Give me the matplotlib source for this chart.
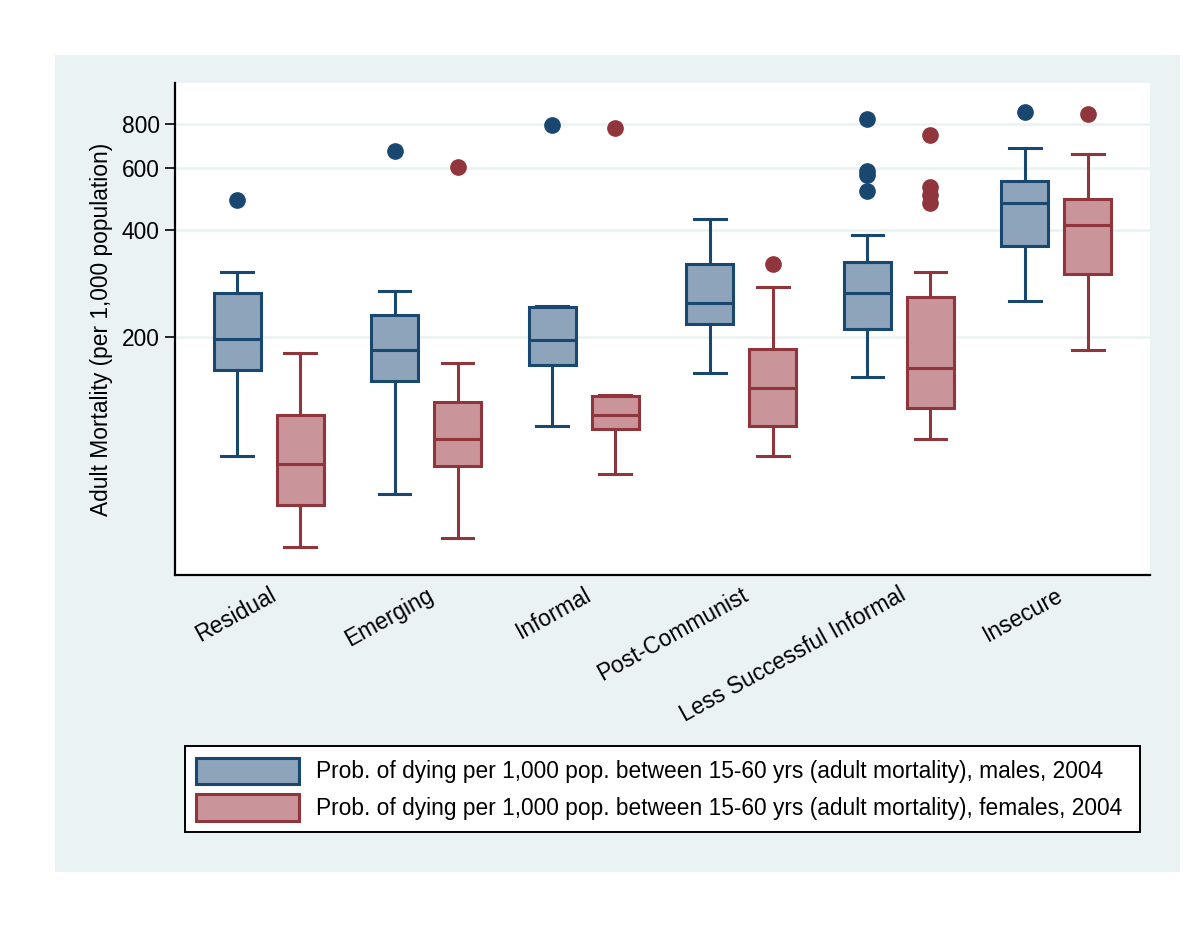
import matplotlib.pyplot as plt
from matplotlib.patches import Rectangle, Patch
import numpy as np

plt.rcParams['font.family'] = ['Liberation Sans', 'DejaVu Sans']

categories = ['Residual', 'Emerging', 'Informal', 'Post-Communist',
              'Less Successful Informal', 'Insecure']

# male box stats: whisker low, q1, median, q3, whisker high
male_lo = [92, 72, 112, 158, 154, 253]
male_q1 = [161, 150, 167, 218, 211, 362]
male_med = [197, 184, 196, 250, 266, 479]
male_q3 = [266, 231, 243, 322, 326, 553]
male_hi = [305, 270, 244, 431, 389, 685]
male_out = [[488], [672], [796], [], [828, 590, 575, 518], [866]]

# female box stats
fem_lo = [51, 54, 82, 92, 103, 183]
fem_q1 = [67, 86, 110, 112, 126, 301]
fem_med = [87.5, 103, 120, 143, 163, 415]
fem_q3 = [120, 131, 136, 185, 260, 491]
fem_hi = [180, 169, 137, 277, 305, 659]
fem_out = [[], [605], [780], [322], [746, 531, 505, 479], [855]]

yticks = [200, 400, 600, 800]

legend_labels = [
    'Prob. of dying per 1,000 pop. between 15-60 yrs (adult mortality), males, 2004',
    'Prob. of dying per 1,000 pop. between 15-60 yrs (adult mortality), females, 2004',
]

navy = '#1a476f'
maroon = '#90353b'
navy_fill = '#8da4bb'
maroon_fill = '#c9949a'
bg = '#eaf2f3'
fs = 16.4

fig = plt.figure(figsize=(12, 9.27), dpi=100)
fig.patches.append(Rectangle((55 / 1200, 1 - 872 / 927), 1125 / 1200, 817 / 927,
                             transform=fig.transFigure, facecolor=bg,
                             edgecolor='none', zorder=-10))
ax = fig.add_axes([175 / 1200, 1 - 575 / 927, 975 / 1200, 492 / 927])


def stats(lo, q1, med, q3, hi, out):
    return [dict(whislo=a, q1=b, med=c, q3=d, whishi=e, fliers=f)
            for a, b, c, d, e, f in zip(lo, q1, med, q3, hi, out)]


x = np.arange(len(categories))
for st, pos, edge, fill in [
        (stats(male_lo, male_q1, male_med, male_q3, male_hi, male_out), x - 0.2, navy, navy_fill),
        (stats(fem_lo, fem_q1, fem_med, fem_q3, fem_hi, fem_out), x + 0.2, maroon, maroon_fill)]:
    ax.bxp(st, positions=pos, widths=0.3, patch_artist=True, showfliers=True,
           capwidths=0.2, manage_ticks=False,
           boxprops=dict(facecolor=fill, edgecolor=edge, linewidth=2.2),
           medianprops=dict(color=edge, linewidth=2.2),
           whiskerprops=dict(color=edge, linewidth=2.2),
           capprops=dict(color=edge, linewidth=2.2),
           flierprops=dict(marker='o', markerfacecolor=edge, markeredgecolor=edge,
                           markersize=11, linestyle='none'))

ax.set_yscale('log')
ax.set_ylim(42.4, 1045)
ax.set_xlim(-0.595, 5.595)
ax.set_yticks(yticks)
ax.set_yticklabels([str(v) for v in yticks])
ax.yaxis.set_minor_locator(plt.NullLocator())
ax.set_xticks(x)
ax.set_xticklabels(categories, rotation=29, ha='right', rotation_mode='anchor')
ax.tick_params(axis='x', length=0, labelsize=fs, pad=6)
ax.tick_params(axis='y', length=7, width=1.2, labelsize=fs, pad=4)
for v in yticks:
    ax.axhline(v, color=bg, linewidth=1.8, zorder=0)
ax.set_ylabel('Adult Mortality (per 1,000 population)', fontsize=fs, labelpad=6)
ax.spines['top'].set_visible(False)
ax.spines['right'].set_visible(False)
ax.spines['left'].set_linewidth(1.6)
ax.spines['bottom'].set_linewidth(1.6)

handles = [Patch(facecolor=navy_fill, edgecolor=navy, linewidth=2.2),
           Patch(facecolor=maroon_fill, edgecolor=maroon, linewidth=2.2)]
leg = fig.legend(handles, legend_labels, loc='lower left',
                 bbox_to_anchor=(185 / 1200, 1 - 832 / 927, 955 / 1200, 91 / 927),
                 mode='expand', fontsize=fs, handlelength=4.5, handleheight=1.4,
                 handletextpad=0.75, labelspacing=0.45, borderpad=0.5,
                 borderaxespad=0, fancybox=False, framealpha=1, edgecolor='black')
leg.get_frame().set_linewidth(1.4)

fig.savefig('out.png', dpi=100)
